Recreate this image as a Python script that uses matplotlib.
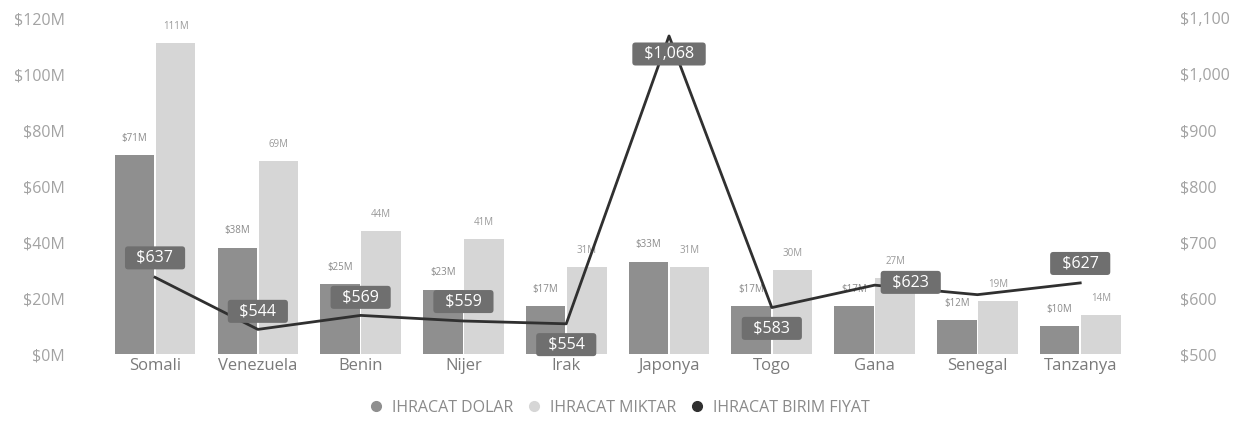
import numpy as np
from matplotlib import pyplot as plt

plt.rcParams['font.family'] = ['Open Sans', 'DejaVu Sans']

countries = ['Somali', 'Venezuela', 'Benin', 'Nijer', 'Irak', 'Japonya', 'Togo', 'Gana', 'Senegal', 'Tanzanya']
dolar = [71, 38, 25, 23, 17, 33, 17, 17, 12, 10]          # milyon $
miktar = [111, 69, 44, 41, 31, 31, 30, 27, 19, 14]        # milyon
birim_fiyat = [637, 544, 569, 559, 554, 1068, 583, 623, 606, 627]
fiyat_etiket = ['$637', '$544', '$569', '$559', '$554', '$1,068', '$583', '$623', None, '$627']

# label offsets for the unit price boxes (points)
lbl_off = [(0, 14), (0, 13), (0, 13), (0, 14), (0, -15), (0, -13), (0, -15), (26, 2), (0, 0), (0, 14)]

c_dolar = '#8f8f8f'
c_miktar = '#d6d6d6'
c_line = '#303030'
c_txt = '#a3a3a3'

fig = plt.figure(figsize=(12.37, 4.24), dpi=100)
ax = fig.add_axes([0.0838, 0.165, 0.831, 0.7925])
ax2 = ax.twinx()

x = np.arange(len(countries))
w = 0.385
ax.bar(x - 0.2, dolar, w, color=c_dolar, zorder=2)
ax.bar(x + 0.2, miktar, w, color=c_miktar, zorder=2)

for i in range(len(x)):
    ax.text(x[i] - 0.2, dolar[i] + 4, '$%dM' % dolar[i], ha='center', va='bottom', fontsize=7, color='#8a8a8a')
    ax.text(x[i] + 0.2, miktar[i] + 4, '%dM' % miktar[i], ha='center', va='bottom', fontsize=7, color='#9a9a9a')

ax.set_xlim(-0.5, 9.5)
ax.set_ylim(0, 120)
ax.set_yticks(range(0, 121, 20))
ax.set_yticklabels(['$%dM' % v for v in range(0, 121, 20)])
ax.set_xticks(x)
ax.set_xticklabels(countries)

ax2.plot(x, birim_fiyat, color=c_line, lw=2, zorder=3)
ax2.set_ylim(500, 1100)
ax2.set_yticks(range(500, 1101, 100))
ax2.set_yticklabels(['$500', '$600', '$700', '$800', '$900', '$1,000', '$1,100'])

for i in range(len(x)):
    if fiyat_etiket[i] is None:
        continue
    ax2.annotate('  ' + fiyat_etiket[i] + '  ', (x[i], birim_fiyat[i]), xytext=lbl_off[i], textcoords='offset points',
                 ha='center', va='center', fontsize=11.5, color='white', zorder=5,
                 bbox=dict(boxstyle='round,pad=0.22,rounding_size=0.2', fc='#6f6f6f', ec='none'))

for a in (ax, ax2):
    for s in a.spines.values():
        s.set_visible(False)
    a.tick_params(length=0, labelsize=11.5, colors=c_txt)
ax.tick_params(axis='y', pad=28)
ax2.tick_params(axis='y', pad=35)
ax.tick_params(axis='x', labelsize=12, colors='#7a7a7a', pad=3)

h1 = plt.Line2D([], [], ls='', marker='o', ms=7, color=c_dolar)
h2 = plt.Line2D([], [], ls='', marker='o', ms=7, color=c_miktar)
h3 = plt.Line2D([], [], ls='', marker='o', ms=7, color=c_line)
leg = fig.legend([h1, h2, h3], ['IHRACAT DOLAR', 'IHRACAT MIKTAR', 'IHRACAT BIRIM FIYAT'],
                 loc='center', bbox_to_anchor=(0.497, 0.038), ncol=3, frameon=False,
                 handletextpad=0.0, columnspacing=0.3, fontsize=11.5)
for t in leg.get_texts():
    t.set_color('#8a8a8a')

fig.savefig('out.png', dpi=100, facecolor='white')
